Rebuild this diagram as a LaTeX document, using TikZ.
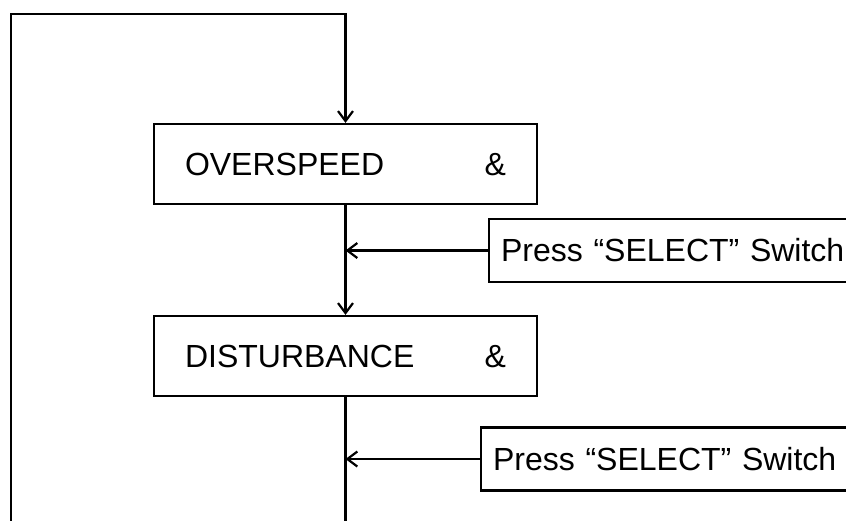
\documentclass[tikz,border=0pt]{standalone}
\usepackage{fontspec}
\setmainfont{Liberation Sans}
\usetikzlibrary{arrows.meta,positioning}

\tikzset{
  state/.style={draw,minimum height=40pt,text width=160.5pt,inner xsep=15.5pt,
    align=left,font=\fontsize{16}{19}\selectfont},
  keybox/.style={draw,anchor=west,minimum height=31.5pt,text width=176pt,
    inner xsep=6pt,align=left,font=\fontsize{16}{19}\selectfont}
}

\begin{document}
\begin{tikzpicture}[x=0.5pt,y=-0.5pt,>={Straight Barb[length=5pt,width=7.5pt]},line width=1.1pt]
  \useasboundingbox (0,0) rectangle (846,520);
  % the two display states
  \node[state] (over) at (345.5,164) {OVERSPEED\hfill\&};
  \node[state] (dist) at (345.5,356) {DISTURBANCE\hfill\&};
  % key presses
  \node[keybox] (sel1) at (488,250.5) {Press “SELECT” Switch};
  \node[keybox] (sel2) at (480,459) {Press “SELECT” Switch};
  % loop back to the top
  \coordinate (loopB) at (11,522);
  \coordinate (loopT) at (11,14);
  \coordinate (down) at (dist.south |- loopB);
  \draw[->] (loopB) -- (loopT) -| (over.north);
  \draw[->] (over.south) -- (dist.north);
  \draw (dist.south) -- (down);
  \draw[->] (sel1.west) -- (over.south |- sel1.west);
  \draw[->] (sel2.west) -- (dist.south |- sel2.west);
\end{tikzpicture}
\end{document}
